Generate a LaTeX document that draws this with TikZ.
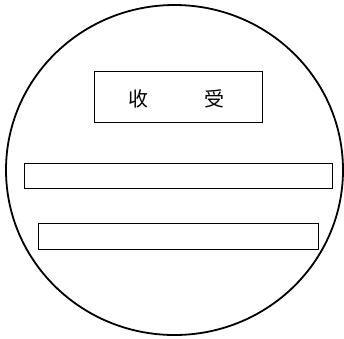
\documentclass[tikz,border=0pt]{standalone}
\usepackage{fontspec}
\newfontfamily\cjk{Noto Sans CJK SC}
\begin{document}
\begin{tikzpicture}[x=1pt,y=-1pt,
  boxstyle/.style={draw=black,line width=0.9pt,inner sep=0pt},
  cjktext/.style={font=\cjk\fontsize{20}{20}\selectfont,inner sep=0pt}]
\useasboundingbox (0,0) rectangle (344,338);
\draw[line width=1.8pt] (174.5,170) ellipse [x radius=168.5, y radius=165];
\draw[boxstyle] (94.3,71.3) rectangle (262.7,122.7);
\node[cjktext] (shou) at (138,99) {收};
\node[cjktext] (accept) at (214,99) {受};
\draw[boxstyle] (24,163) rectangle (332.3,188.7);
\draw[boxstyle] (38.3,223.7) rectangle (318.7,249);
\end{tikzpicture}
\end{document}
